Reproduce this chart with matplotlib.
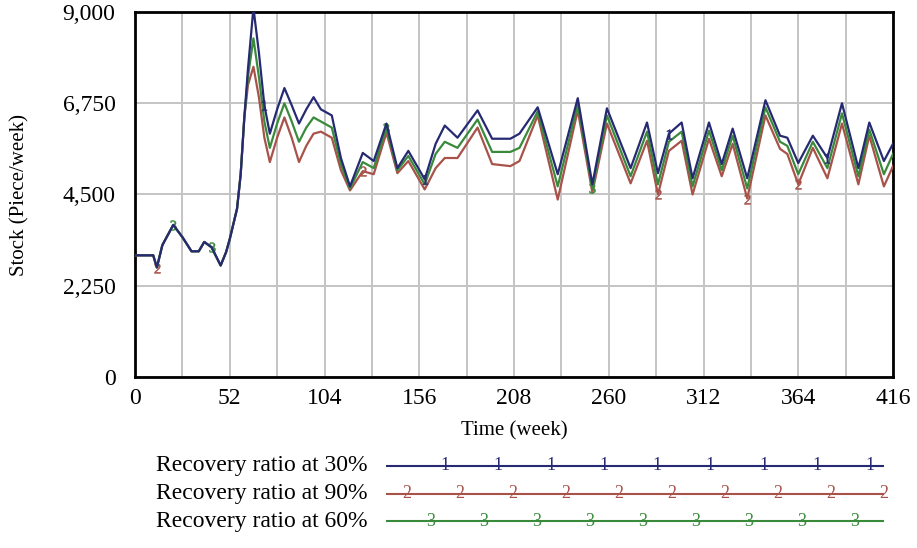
import matplotlib
matplotlib.use("Agg")
import matplotlib.pyplot as plt
import numpy as np

plt.rcParams["font.family"] = ["Liberation Serif", "DejaVu Serif"]
plt.rcParams["mathtext.fontset"] = "stix"

# Simulation output, sampled at the turning points of each run
weeks = [0, 10, 12, 15, 21, 26, 31, 35, 38, 42, 47, 50, 52, 56, 58, 60, 62, 65,
         68, 71, 74, 78, 82, 86, 90, 94, 98, 102, 108, 113, 118, 125, 131, 138,
         144, 150, 159, 165, 170, 177, 188, 196, 206, 211, 221, 232, 243, 251,
         259, 272, 281, 287, 293, 300, 306, 315, 322, 328, 336, 346, 354, 358,
         364, 372, 380, 388, 397, 403, 411, 416]

stock_30 = [3000, 3000, 2700, 3250, 3750, 3450, 3100, 3100, 3330, 3200, 2750, 3080,
            3400, 4150, 5000, 6400, 7600, 9100, 8000, 6700, 6000, 6600, 7125, 6700,
            6250, 6600, 6900, 6600, 6450, 5400, 4700, 5525, 5325, 6250, 5150, 5575,
            4875, 5750, 6200, 5900, 6575, 5875, 5875, 6000, 6650, 5000, 6875, 4750,
            6625, 5150, 6275, 5025, 6000, 6275, 4900, 6275, 5250, 6125, 4900, 6825,
            5950, 5900, 5275, 5950, 5400, 6750, 5150, 6275, 5325, 5750]

stock_90 = [3000, 3000, 2700, 3250, 3750, 3450, 3100, 3100, 3330, 3200, 2750, 3080,
            3400, 4150, 5000, 6400, 7200, 7650, 6900, 5900, 5300, 5900, 6400, 5900,
            5300, 5700, 6000, 6050, 5900, 5100, 4600, 5075, 5000, 6025, 5025, 5325,
            4625, 5150, 5400, 5400, 6150, 5250, 5200, 5325, 6450, 4375, 6575, 4550,
            6250, 4775, 5825, 4500, 5575, 5825, 4500, 5875, 4950, 5750, 4400, 6450,
            5625, 5500, 4750, 5650, 4900, 6250, 4750, 5950, 4700, 5200]

stock_60 = [3000, 3000, 2700, 3250, 3750, 3450, 3100, 3100, 3330, 3200, 2750, 3080,
            3400, 4150, 5000, 6400, 7400, 8350, 7400, 6300, 5650, 6250, 6750, 6300,
            5800, 6150, 6400, 6300, 6150, 5250, 4650, 5300, 5150, 6150, 5100, 5450,
            4750, 5500, 5800, 5650, 6350, 5550, 5550, 5650, 6550, 4700, 6725, 4650,
            6450, 4950, 6050, 4750, 5800, 6050, 4700, 6075, 5100, 5950, 4650, 6650,
            5800, 5700, 5000, 5800, 5150, 6500, 4950, 6100, 5000, 5500]

labels = ["Recovery ratio at 30%", "Recovery ratio at 90%", "Recovery ratio at 60%"]
colors = ["#262a72", "#a8524a", "#3a8a3c"]
tags = ["1", "2", "3"]

x_ticks = [0, 52, 104, 156, 208, 260, 312, 364, 416]
y_ticks = [0, 2250, 4500, 6750, 9000]
y_tick_labels = ["0", "2,250", "4,500", "6,750", "9,000"]

W, H = 917, 548
fig = plt.figure(figsize=(W / 100, H / 100), dpi=100)
ax = fig.add_axes([135 / W, 1 - 377 / H, (893 - 135) / W, (377 - 12) / H])

series = [stock_30, stock_90, stock_60]
mark_idx = [[19, 36, 52, 64], [2, 31, 51, 58, 62], [4, 9, 33, 47]]
for k in (1, 2, 0):
    ax.plot(weeks, series[k], color=colors[k], lw=1.6, zorder=3 + (k == 0),
            marker=r"$\mathregular{%s}$" % tags[k], markersize=7,
            markevery=mark_idx[k], markeredgewidth=0.4)

ax.set_xlim(0, 416)
ax.set_ylim(0, 9000)
ax.set_xticks(x_ticks)
ax.set_xticks(np.arange(0, 417, 26), minor=True)
ax.set_yticks(y_ticks)
ax.set_yticklabels(y_tick_labels)
ax.grid(True, which="both", color="#c4c4c4", lw=1.4)
ax.set_axisbelow(True)
ax.tick_params(which="both", length=0, labelsize=17, pad=8)
ax.tick_params(axis="y", pad=14)
for s in ax.spines.values():
    s.set_linewidth(2)
    s.set_color("black")

ax.set_xlabel("Time (week)", fontsize=15, labelpad=9)
fig.text(20 / W, 1 - 195 / H, "Stock (Piece/week)", rotation=90,
         fontsize=15, ha="center", va="center")

# Key below the chart: label on the left, sample line with run tags
row_y = [466, 494, 521]
tag_start = [0.119, 0.042, 0.09]
lx0, lx1 = 386, 884
lax = fig.add_axes([lx0 / W, 1 - 535 / H, (lx1 - lx0) / W, (535 - 452) / H])
lax.set_xlim(0, 1)
lax.set_ylim(535, 452)
lax.axis("off")
for k in range(3):
    fig.text(368 / W, 1 - row_y[k] / H, labels[k], ha="right", va="center",
             fontsize=17)
    lax.plot([0, 1], [row_y[k], row_y[k]], color=colors[k], lw=1.5)
    for fx in np.arange(tag_start[k], 1.001, 0.1065):
        lax.text(fx, row_y[k], tags[k], color=colors[k], ha="center",
                 va="center", fontsize=13)

fig.savefig("out.png", dpi=100)
